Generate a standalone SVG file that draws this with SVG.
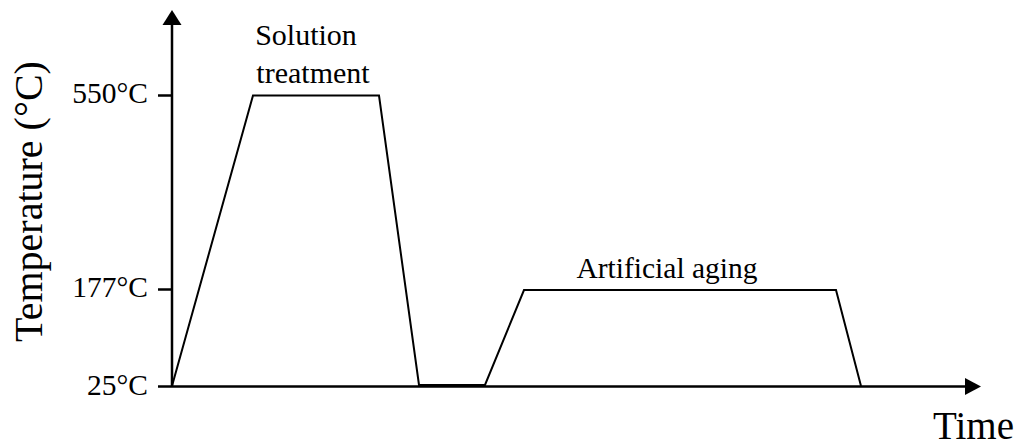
<svg xmlns="http://www.w3.org/2000/svg" width="1021" height="446" viewBox="0 0 1021 446">
<style>
.ax{stroke:#000;stroke-width:2.5;fill:none}
.prof{stroke:#000;stroke-width:2;fill:none;stroke-linejoin:miter}
.s{font-family:"Liberation Serif","Times New Roman",serif;fill:#000}
</style>
<rect width="1021" height="446" fill="#fff"/>
<g id="connectors">
<line class="ax" x1="172" y1="387" x2="172" y2="24"/>
<polygon points="172,10 162.5,25 181.5,25" fill="#000"/>
<line class="ax" x1="158" y1="386.5" x2="966" y2="386.5"/>
<polygon points="981,386.5 965,378 965,395" fill="#000"/>
<line class="ax" x1="158" y1="95.5" x2="172" y2="95.5"/>
<line class="ax" x1="158" y1="289.5" x2="172" y2="289.5"/>
<polyline class="prof" points="172,386 253,95.5 379,95.5 419,385 485,385 524,290 836,290 861,386"/>
</g>
<g id="y-axis-label"><text class="s" x="42" y="201.5" font-size="40" text-anchor="middle" transform="rotate(-90 42 201.5)">Temperature (°C)</text></g>
<g id="x-axis-label"><text class="s" x="1014" y="439" font-size="39" text-anchor="end">Time</text></g>
<g id="tick-550"><text class="s" x="148" y="103" font-size="29.5" text-anchor="end">550°C</text></g>
<g id="tick-177"><text class="s" x="148" y="297" font-size="29.5" text-anchor="end">177°C</text></g>
<g id="tick-25"><text class="s" x="148" y="395" font-size="29.5" text-anchor="end">25°C</text></g>
<g id="solution-treatment"><text class="s" x="306" y="45" font-size="30" text-anchor="middle">Solution</text><text class="s" x="313" y="83" font-size="30" text-anchor="middle">treatment</text></g>
<g id="artificial-aging"><text class="s" x="667" y="278" font-size="29.5" text-anchor="middle">Artificial aging</text></g>
</svg>
